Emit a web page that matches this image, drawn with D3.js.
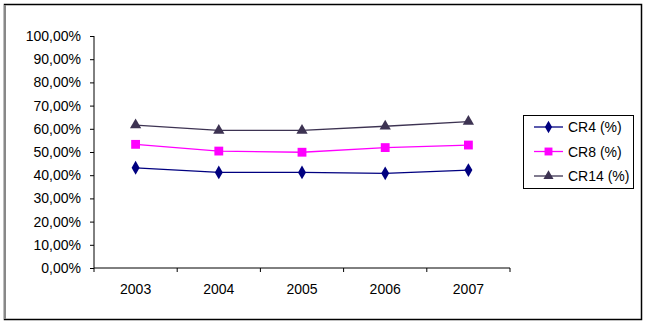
<!DOCTYPE html>
<html lang="en">

<head>
  <meta charset="UTF-8">
  <script src="https://d3js.org/d3.v7.min.js"></script>
  <style>
    html,
    body {
      padding: 0px;
      margin: 0px;
      background-color: white;
      font-family: "Liberation Sans", Arial, sans-serif;
    }
  </style>
</head>

<body>
  <svg id="chart" width="647" height="325"></svg>

  <script>
    const years = ["2003", "2004", "2005", "2006", "2007"];
    const cr4 = [43.2, 41.2, 41.2, 40.8, 42.2];
    const cr8 = [53.3, 50.4, 49.9, 51.9, 53.0];
    const cr14 = [61.6, 59.3, 59.3, 61.1, 63.1];
    const yTicks = [0, 10, 20, 30, 40, 50, 60, 70, 80, 90, 100];
    const seriesNames = ["CR4 (%)", "CR8 (%)", "CR14 (%)"];

    const svg = d3.select("#chart");
    const margin = { top: 36, left: 94, right: 137, bottom: 57 };

    // outer frame
    svg.append("rect")
      .attr("x", 4.5).attr("y", 4.5)
      .attr("width", 637).attr("height", 315)
      .attr("fill", "white")
      .attr("stroke", "#000").attr("stroke-width", 1.5);
    svg.append("line")
      .attr("x1", 5).attr("x2", 5).attr("y1", 5).attr("y2", 319)
      .attr("stroke", "#888").attr("stroke-width", 2);

    const x = d3.scaleBand().domain(years).range([margin.left, 510]);
    const y = d3.scaleLinear().domain([0, 100]).range([268, margin.top]);

    // y axis
    const yAxis = svg.append("g")
      .attr("transform", `translate(${margin.left},0)`)
      .call(d3.axisLeft(y).tickValues(yTicks).tickSize(4).tickPadding(9)
        .tickFormat(d => d.toFixed(2).replace(".", ",") + "%"));
    yAxis.select(".domain").attr("d", `M0,${y(100)}V${y(0)}`).attr("stroke", "#000");

    // x axis
    const xAxis = svg.append("g")
      .attr("transform", `translate(0,268)`)
      .call(d3.axisBottom(x).tickSize(0).tickPadding(16));
    xAxis.select(".domain").attr("d", `M${margin.left},0H510`).attr("stroke", "#000");
    // ticks between categories
    xAxis.selectAll(".sep").data(d3.range(years.length + 1))
      .join("line")
      .attr("class", "sep")
      .attr("x1", i => margin.left + i * x.step())
      .attr("x2", i => margin.left + i * x.step())
      .attr("y1", 0).attr("y2", 4)
      .attr("stroke", "#000");

    svg.selectAll(".tick text")
      .attr("font-family", "'Liberation Sans', Arial, sans-serif")
      .attr("font-size", 14)
      .attr("fill", "#000");

    const series = [
      { name: seriesNames[0], values: cr4, line: "#000080", fill: "#000080", sym: d3.symbolDiamond, size: 55, lw: 1.3 },
      { name: seriesNames[1], values: cr8, line: "#ff00ff", fill: "#ff00ff", sym: d3.symbolSquare, size: 78, lw: 1.3 },
      { name: seriesNames[2], values: cr14, line: "#3d3352", fill: "#3d3352", sym: d3.symbolTriangle, size: 55, lw: 1.3 }
    ];

    const cx = d => x(d) + x.bandwidth() / 2;
    const line = d3.line().x(d => cx(d.year)).y(d => y(d.v));

    for (const s of series) {
      const pts = years.map((yr, i) => ({ year: yr, v: s.values[i] }));
      svg.append("path")
        .datum(pts)
        .attr("d", line)
        .attr("fill", "none")
        .attr("stroke", s.line)
        .attr("stroke-width", s.lw);
      svg.selectAll(null).data(pts)
        .join("path")
        .attr("transform", d => `translate(${cx(d.year)},${y(d.v)})`)
        .attr("d", d3.symbol().type(s.sym).size(s.size))
        .attr("fill", s.fill);
    }

    // legend
    const legend = svg.append("g");
    legend.append("rect")
      .attr("x", 523.5).attr("y", 115.5)
      .attr("width", 110).attr("height", 73)
      .attr("fill", "white").attr("stroke", "#000").attr("stroke-width", 1);
    series.forEach((s, i) => {
      const ly = 127 + i * 24.5;
      legend.append("line")
        .attr("x1", 534).attr("x2", 563).attr("y1", ly).attr("y2", ly)
        .attr("stroke", s.line).attr("stroke-width", 1.3);
      legend.append("path")
        .attr("transform", `translate(548.5,${ly})`)
        .attr("d", d3.symbol().type(s.sym).size(s.size * 0.8))
        .attr("fill", s.fill);
      legend.append("text")
        .attr("x", 568).attr("y", ly + 5)
        .attr("font-size", 14)
        .attr("fill", "#000")
        .text(s.name);
    });
  </script>
</body>

</html>
